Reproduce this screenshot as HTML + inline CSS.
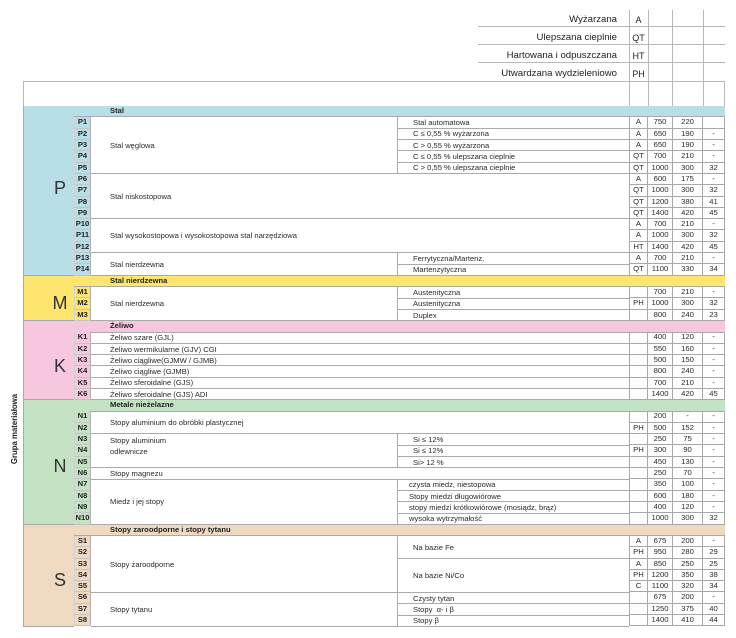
<!DOCTYPE html>
<html><head><meta charset="utf-8">
<style>
*{box-sizing:border-box}
:root{--h:11.326px}
body{margin:0;width:736px;height:638px;position:relative;overflow:hidden;background:#fff;font-family:"Liberation Sans",Arial,sans-serif;color:#222}
.a{position:absolute}
.cp{background:#b8dee8}.cm{background:#fde56f}.ck{background:#f6c7df}.cn{background:#c4e3c5}.cs{background:#efd9c0}
.hl{position:absolute;height:1px;background:#b8b8b8}
.vl{position:absolute;width:1px;background:#b8b8b8}
.lab{position:absolute;left:380px;width:237px;text-align:right;font-size:9.6px;line-height:12px;white-space:nowrap}
.cod{position:absolute;left:629px;width:19px;text-align:center;font-size:9px;line-height:12px}
#d .r{height:var(--h);display:flex}
#d .r i{font-style:normal;display:block;height:100%;border-right:1px solid #a8a8a8;border-bottom:1px solid #a8a8a8;text-align:center;font-size:7.7px;line-height:10.3px;color:#2a2a2a}
#d .r i:nth-child(1){width:19px;border-left:1px solid #a8a8a8}
#d .r i:nth-child(2){width:25px}
#d .r i:nth-child(3){width:30px}
#d .r i:nth-child(4){width:22px}
#id .r{height:var(--h);font-size:7.6px;font-weight:bold;text-align:center;line-height:10.3px}
#id .r.x{border-bottom:1px solid #c4c4c4;border-right:1px solid #b0b0b0;border-left:1px solid #d2d2d2}
.band{position:absolute;left:74px;width:651px;height:var(--h);top:calc(106px + var(--r) * var(--h));border-bottom:1px solid #aaa;font-size:7.6px;font-weight:bold;line-height:10.3px;padding-left:36px;white-space:nowrap}
.grp{position:absolute;left:23px;width:51px;top:calc(106px + var(--r) * var(--h));height:calc(var(--n) * var(--h));border-left:1px solid #aaa;border-bottom:1px solid #aaa}
.let{position:absolute;left:40px;width:40px;text-align:center;font-size:18px;line-height:18px;color:#333}
.n{position:absolute;top:calc(106px + var(--r) * var(--h));height:calc(var(--n,1) * var(--h));left:91px;width:538px;border-bottom:1px solid #aaa;display:flex;align-items:center;padding-left:19px;font-size:7.6px;white-space:nowrap;color:#2a2a2a}
.n.w{width:306px}
.n.s{left:397px;width:232px;border-left:1px solid #aaa;padding-left:15px}
.vt{position:absolute;left:-35px;top:424px;width:100px;height:10px;line-height:10px;text-align:center;font-size:7.8px;font-weight:bold;transform:rotate(-90deg);white-space:nowrap}
</style></head><body>

<!-- header -->
<div class="hl" style="left:478px;top:26px;width:247px"></div>
<div class="hl" style="left:478px;top:44px;width:247px"></div>
<div class="hl" style="left:478px;top:62px;width:247px"></div>
<div class="hl" style="left:23px;top:81px;width:702px"></div>
<div class="vl" style="left:629px;top:10px;height:96px"></div>
<div class="vl" style="left:648px;top:10px;height:96px"></div>
<div class="vl" style="left:672px;top:10px;height:96px"></div>
<div class="vl" style="left:703px;top:10px;height:96px"></div>
<div class="vl" style="left:724px;top:81px;height:25px"></div>
<div class="vl" style="left:23px;top:81px;height:25px"></div>

<div class="lab" style="top:14px">Wyżarzana</div>
<div class="lab" style="top:32px">Ulepszana cieplnie</div>
<div class="lab" style="top:50px">Hartowana i odpuszczana</div>
<div class="lab" style="top:68px">Utwardzana wydzieleniowo</div>
<div class="cod" style="top:14px">A</div>
<div class="cod" style="top:32px">QT</div>
<div class="cod" style="top:50px">HT</div>
<div class="cod" style="top:68px">PH</div>

<div class="vt">Grupa materiałowa</div>

<!-- group letter blocks -->
<div class="grp cp" style="--r:0;--n:15"></div>
<div class="grp cm" style="--r:15;--n:4"></div>
<div class="grp ck" style="--r:19;--n:7"></div>
<div class="grp cn" style="--r:26;--n:11"></div>
<div class="grp cs" style="--r:37;--n:9"></div>
<div class="let" style="top:179px">P</div>
<div class="let" style="top:294px">M</div>
<div class="let" style="top:357px">K</div>
<div class="let" style="top:457px">N</div>
<div class="let" style="top:571px">S</div>

<!-- bands -->
<div class="band cp" style="--r:0">Stal</div>
<div class="band cm" style="--r:15">Stal nierdzewna</div>
<div class="band ck" style="--r:19">Żeliwo</div>
<div class="band cn" style="--r:26">Metale nieżelazne</div>
<div class="band cs" style="--r:37">Stopy zaroodporne i stopy tytanu</div>

<!-- ID column -->
<div class="a" id="id" style="left:74px;top:106px;width:17px">
<div class="r"></div>
<div class="r x cp">P1</div><div class="r x cp">P2</div><div class="r x cp">P3</div><div class="r x cp">P4</div><div class="r x cp">P5</div><div class="r x cp">P6</div><div class="r x cp">P7</div><div class="r x cp">P8</div><div class="r x cp">P9</div><div class="r x cp">P10</div><div class="r x cp">P11</div><div class="r x cp">P12</div><div class="r x cp">P13</div><div class="r x cp">P14</div>
<div class="r"></div>
<div class="r x cm">M1</div><div class="r x cm">M2</div><div class="r x cm">M3</div>
<div class="r"></div>
<div class="r x ck">K1</div><div class="r x ck">K2</div><div class="r x ck">K3</div><div class="r x ck">K4</div><div class="r x ck">K5</div><div class="r x ck">K6</div>
<div class="r"></div>
<div class="r x cn">N1</div><div class="r x cn">N2</div><div class="r x cn">N3</div><div class="r x cn">N4</div><div class="r x cn">N5</div><div class="r x cn">N6</div><div class="r x cn">N7</div><div class="r x cn">N8</div><div class="r x cn">N9</div><div class="r x cn">N10</div>
<div class="r"></div>
<div class="r x cs">S1</div><div class="r x cs">S2</div><div class="r x cs">S3</div><div class="r x cs">S4</div><div class="r x cs">S5</div><div class="r x cs">S6</div><div class="r x cs">S7</div><div class="r x cs">S8</div>
</div>

<!-- names / subs -->
<div class="n w" style="--r:1;--n:5">Stal węglowa</div>
<div class="n s" style="--r:1">Stal automatowa</div>
<div class="n s" style="--r:2">C ≤ 0,55 % wyżarzona</div>
<div class="n s" style="--r:3">C &gt; 0,55 % wyżarzona</div>
<div class="n s" style="--r:4">C ≤ 0,55 % ulepszana cieplnie</div>
<div class="n s" style="--r:5">C &gt; 0,55 % ulepszana cieplnie</div>
<div class="n" style="--r:6;--n:4">Stal niskostopowa</div>
<div class="n" style="--r:10;--n:3">Stal wysokostopowa i wysokostopowa stal narzędziowa</div>
<div class="n w" style="--r:13;--n:2">Stal nierdzewna</div>
<div class="n s" style="--r:13">Ferrytyczna/Martenz.</div>
<div class="n s" style="--r:14">Martenzytyczna</div>

<div class="n w" style="--r:16;--n:3">Stal nierdzewna</div>
<div class="n s" style="--r:16">Austenityczna</div>
<div class="n s" style="--r:17">Austenityczna</div>
<div class="n s" style="--r:18">Duplex</div>

<div class="n" style="--r:20">Żeliwo szare (GJL)</div>
<div class="n" style="--r:21">Żeliwo wermikularne (GJV) CGI</div>
<div class="n" style="--r:22">Żeliwo ciągliwe(GJMW / GJMB)</div>
<div class="n" style="--r:23">Żeliwo ciągliwe (GJMB)</div>
<div class="n" style="--r:24">Żeliwo sferoidalne (GJS)</div>
<div class="n" style="--r:25">Żeliwo sferoidalne (GJS) ADI</div>

<div class="n" style="--r:27;--n:2">Stopy aluminium do obróbki plastycznej</div>
<div class="n w" style="--r:29;--n:3;align-items:flex-start;padding-top:1px;line-height:11px">Stopy aluminium<br>odlewnicze</div>
<div class="n s" style="--r:29">Si ≤ 12%</div>
<div class="n s" style="--r:30">Si ≤ 12%</div>
<div class="n s" style="--r:31">Si&gt; 12 %</div>
<div class="n" style="--r:32">Stopy magnezu</div>
<div class="n w" style="--r:33;--n:4">Miedz i jej stopy</div>
<div class="n s" style="--r:33;padding-left:11px">czysta miedz, niestopowa</div>
<div class="n s" style="--r:34;padding-left:11px">Stopy miedzi długowiórowe</div>
<div class="n s" style="--r:35;padding-left:11px">stopy miedzi krótkowiórowe (mosiądz, brąz)</div>
<div class="n s" style="--r:36;padding-left:11px">wysoka wytrzymałość</div>

<div class="n w" style="--r:38;--n:5">Stopy żaroodporne</div>
<div class="n s" style="--r:38;--n:2">Na bazie Fe</div>
<div class="n s" style="--r:40;--n:3">Na bazie Ni/Co</div>
<div class="n w" style="--r:43;--n:3">Stopy tytanu</div>
<div class="n s" style="--r:43">Czysty tytan</div>
<div class="n s" style="--r:44">Stopy &nbsp;α- i β</div>
<div class="n s" style="--r:45">Stopy β</div>

<!-- data columns -->
<div class="a" id="d" style="left:629px;top:106px;width:96px">
<div class="r"></div>
<div class="r"><i>A</i><i>750</i><i>220</i><i></i></div>
<div class="r"><i>A</i><i>650</i><i>190</i><i>-</i></div>
<div class="r"><i>A</i><i>650</i><i>190</i><i>-</i></div>
<div class="r"><i>QT</i><i>700</i><i>210</i><i>-</i></div>
<div class="r"><i>QT</i><i>1000</i><i>300</i><i>32</i></div>
<div class="r"><i>A</i><i>600</i><i>175</i><i>-</i></div>
<div class="r"><i>QT</i><i>1000</i><i>300</i><i>32</i></div>
<div class="r"><i>QT</i><i>1200</i><i>380</i><i>41</i></div>
<div class="r"><i>QT</i><i>1400</i><i>420</i><i>45</i></div>
<div class="r"><i>A</i><i>700</i><i>210</i><i>-</i></div>
<div class="r"><i>A</i><i>1000</i><i>300</i><i>32</i></div>
<div class="r"><i>HT</i><i>1400</i><i>420</i><i>45</i></div>
<div class="r"><i>A</i><i>700</i><i>210</i><i>-</i></div>
<div class="r"><i>QT</i><i>1100</i><i>330</i><i>34</i></div>
<div class="r"></div>
<div class="r"><i></i><i>700</i><i>210</i><i>-</i></div>
<div class="r"><i>PH</i><i>1000</i><i>300</i><i>32</i></div>
<div class="r"><i></i><i>800</i><i>240</i><i>23</i></div>
<div class="r"></div>
<div class="r"><i></i><i>400</i><i>120</i><i>-</i></div>
<div class="r"><i></i><i>550</i><i>160</i><i>-</i></div>
<div class="r"><i></i><i>500</i><i>150</i><i>-</i></div>
<div class="r"><i></i><i>800</i><i>240</i><i>-</i></div>
<div class="r"><i></i><i>700</i><i>210</i><i>-</i></div>
<div class="r"><i></i><i>1400</i><i>420</i><i>45</i></div>
<div class="r"></div>
<div class="r"><i></i><i>200</i><i>-</i><i>-</i></div>
<div class="r"><i>PH</i><i>500</i><i>152</i><i>-</i></div>
<div class="r"><i></i><i>250</i><i>75</i><i>-</i></div>
<div class="r"><i>PH</i><i>300</i><i>90</i><i>-</i></div>
<div class="r"><i></i><i>450</i><i>130</i><i>-</i></div>
<div class="r"><i></i><i>250</i><i>70</i><i>-</i></div>
<div class="r"><i></i><i>350</i><i>100</i><i>-</i></div>
<div class="r"><i></i><i>600</i><i>180</i><i>-</i></div>
<div class="r"><i></i><i>400</i><i>120</i><i>-</i></div>
<div class="r"><i></i><i>1000</i><i>300</i><i>32</i></div>
<div class="r"></div>
<div class="r"><i>A</i><i>675</i><i>200</i><i>-</i></div>
<div class="r"><i>PH</i><i>950</i><i>280</i><i>29</i></div>
<div class="r"><i>A</i><i>850</i><i>250</i><i>25</i></div>
<div class="r"><i>PH</i><i>1200</i><i>350</i><i>38</i></div>
<div class="r"><i>C</i><i>1100</i><i>320</i><i>34</i></div>
<div class="r"><i></i><i>675</i><i>200</i><i>-</i></div>
<div class="r"><i></i><i>1250</i><i>375</i><i>40</i></div>
<div class="r"><i></i><i>1400</i><i>410</i><i>44</i></div>
</div>

</body></html>
